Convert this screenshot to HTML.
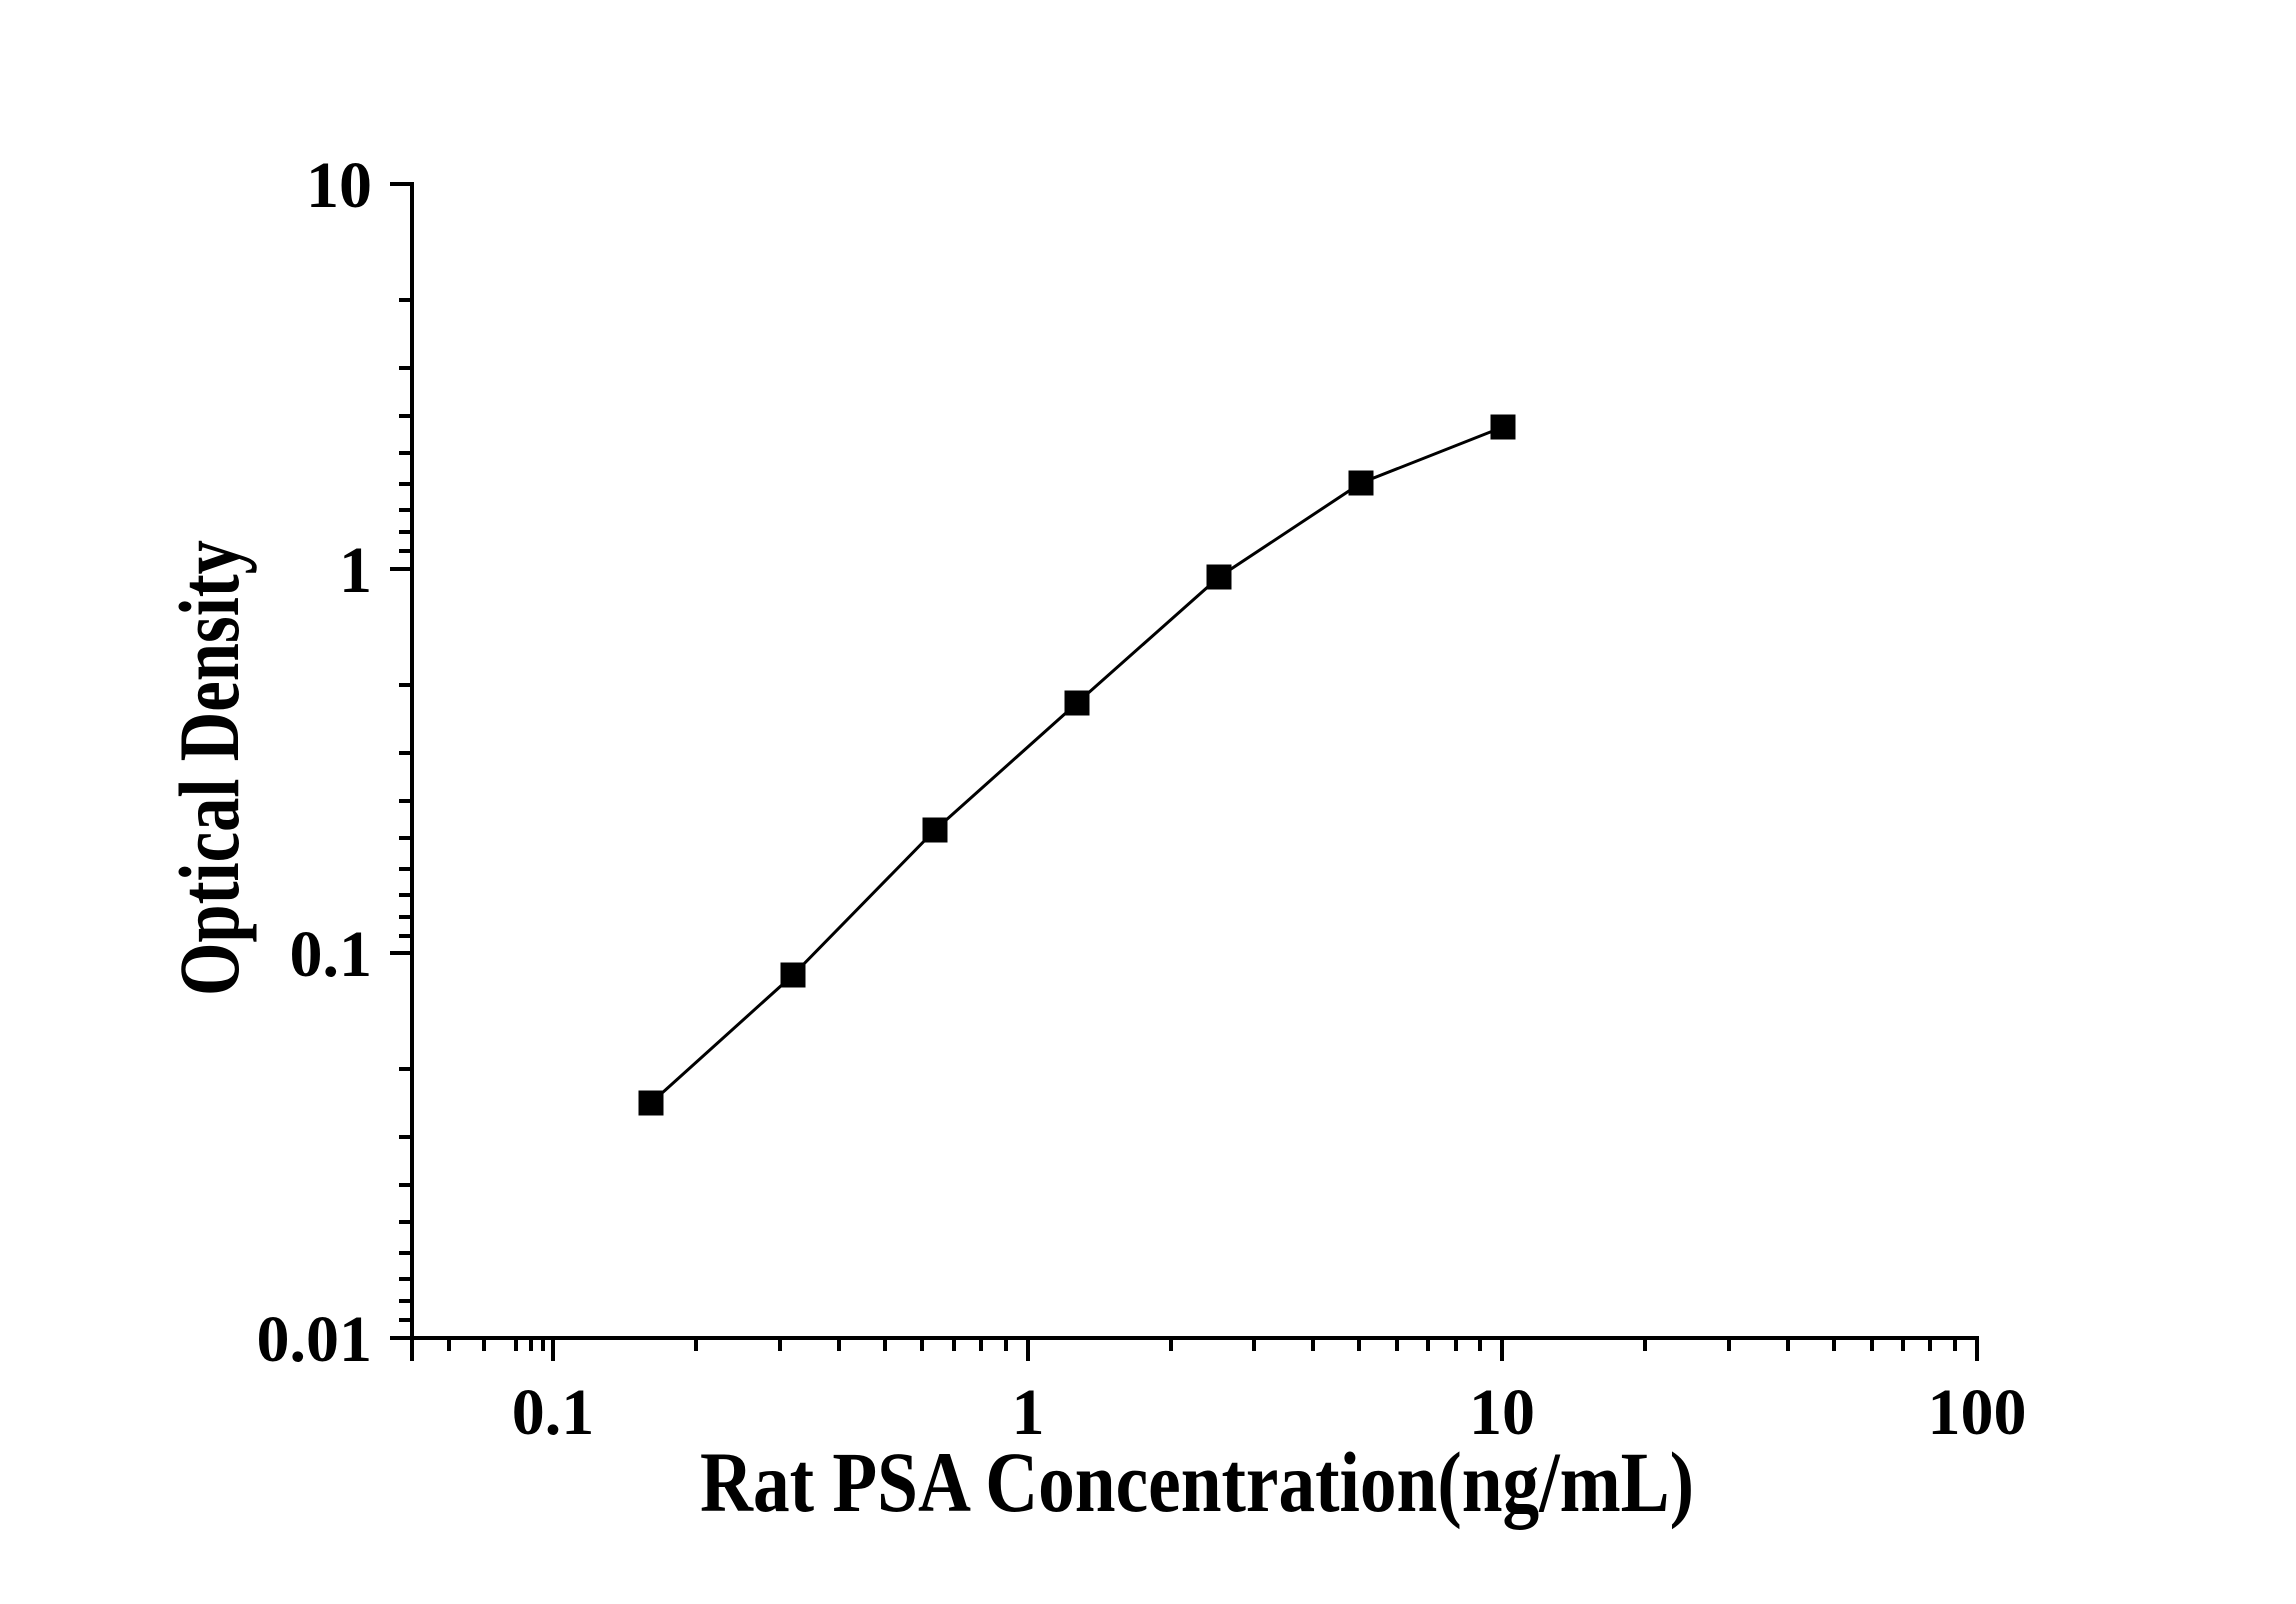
<!DOCTYPE html>
<html><head><meta charset="utf-8"><style>html,body{margin:0;padding:0;background:#fff}svg{display:block}</style></head>
<body>
<svg width="2296" height="1604" viewBox="0 0 2296 1604" xmlns="http://www.w3.org/2000/svg">
<rect width="2296" height="1604" fill="#fff"/>
<g stroke="#000" stroke-width="4" fill="none">
<line x1="412" y1="182" x2="412" y2="1340"/>
<line x1="410" y1="1338" x2="1979" y2="1338"/>
<line x1="390" y1="184" x2="412" y2="184"/>
<line x1="390" y1="569" x2="412" y2="569"/>
<line x1="390" y1="953" x2="412" y2="953"/>
<line x1="390" y1="1338" x2="412" y2="1338"/>
<line x1="553" y1="1338" x2="553" y2="1361"/>
<line x1="1028" y1="1338" x2="1028" y2="1361"/>
<line x1="1502" y1="1338" x2="1502" y2="1361"/>
<line x1="1977" y1="1338" x2="1977" y2="1361"/>
<line x1="412" y1="1338" x2="412" y2="1361"/>
</g>
<g stroke="#000" stroke-width="4">
<path d="M399 300H412M399 368H412M399 416H412M399 453H412M399 484H412M399 510H412M399 532H412M399 551H412
M399 685H412M399 753H412M399 801H412M399 838H412M399 869H412M399 895H412M399 917H412M399 936H412
M399 1069H412M399 1137H412M399 1185H412M399 1222H412M399 1253H412M399 1279H412M399 1301H412M399 1320H412
M449 1338V1351M484 1338V1351M516 1338V1351M531 1338V1351M543 1338V1351
M696 1338V1351M780 1338V1351M839 1338V1351M885 1338V1351M922 1338V1351M954 1338V1351M981 1338V1351M1006 1338V1351
M1171 1338V1351M1254 1338V1351M1313 1338V1351M1359 1338V1351M1397 1338V1351M1428 1338V1351M1456 1338V1351M1480 1338V1351
M1645 1338V1351M1729 1338V1351M1788 1338V1351M1834 1338V1351M1872 1338V1351M1903 1338V1351M1930 1338V1351M1955 1338V1351"/>
</g>
<polyline fill="none" stroke="#000" stroke-width="3" points="651,1103 793,975 935,830 1077,703 1219,577 1361,483 1503,427"/>
<g fill="#000">
<rect x="638.5" y="1090.5" width="25" height="25"/>
<rect x="780.5" y="962.5" width="25" height="25"/>
<rect x="922.5" y="817.5" width="25" height="25"/>
<rect x="1064.5" y="690.5" width="25" height="25"/>
<rect x="1206.5" y="564.5" width="25" height="25"/>
<rect x="1348.5" y="470.5" width="25" height="25"/>
<rect x="1490.5" y="414.5" width="25" height="25"/>
</g>
<g font-family="'Liberation Serif', serif" font-weight="bold" font-size="66" fill="#000">
<g text-anchor="end">
<text x="372" y="207">10</text>
<text x="372" y="592">1</text>
<text x="372" y="976">0.1</text>
<text x="372" y="1361">0.01</text>
</g>
<g text-anchor="middle">
<text x="553" y="1434">0.1</text>
<text x="1028" y="1434">1</text>
<text x="1502" y="1434">10</text>
<text x="1977" y="1434">100</text>
</g>
</g>
<g font-family="'Liberation Serif', serif" font-weight="bold" font-size="86" fill="#000">
<text x="700" y="1511" textLength="994" lengthAdjust="spacingAndGlyphs">Rat PSA Concentration(ng/mL)</text>
<text transform="translate(238,996) rotate(-90)" x="0" y="0" textLength="456" lengthAdjust="spacingAndGlyphs">Optical Density</text>
</g>
</svg>
</body></html>
